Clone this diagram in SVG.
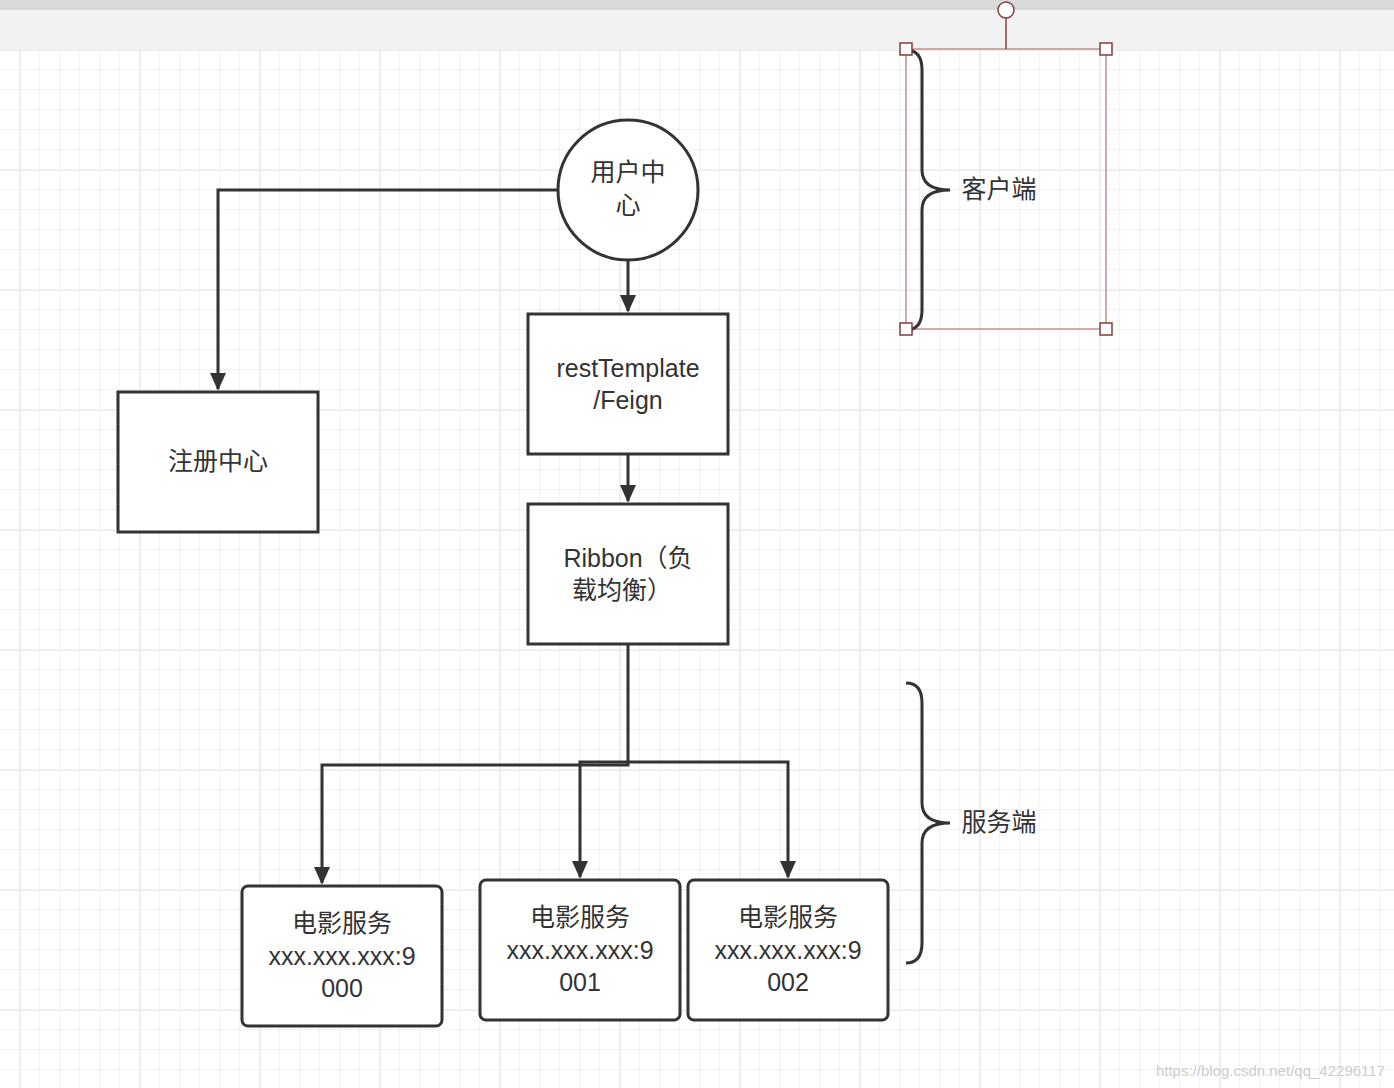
<svg xmlns="http://www.w3.org/2000/svg" width="1394" height="1088" viewBox="0 0 1394 1088">
<defs>
<pattern id="g" width="20" height="20" patternUnits="userSpaceOnUse" x="0" y="10"><path d="M20 0V20M0 20H20" fill="none" stroke="#e6e6e6" stroke-width="1"/></pattern>
<pattern id="G" width="120" height="120" patternUnits="userSpaceOnUse" x="20" y="50"><path d="M0 0V120M0 0H120" fill="none" stroke="#d8d8d8" stroke-width="1"/></pattern>
<marker id="a" markerWidth="18" markerHeight="20" refX="18" refY="9" orient="auto" markerUnits="userSpaceOnUse" viewBox="0 0 20 18"><path d="M0 0L20 9L0 18Z" fill="#333"/></marker>
</defs>
<style>
.n{fill:#fff;stroke:#333;stroke-width:3}
.t{font-family:"Helvetica","Liberation Sans","Noto Sans CJK SC",sans-serif;font-size:25px;fill:#333;text-anchor:middle}
.c{fill:none;stroke:#333;stroke-width:3}
.h{fill:#fff;stroke:#8b3a3a;stroke-width:1.5}
</style>
<rect width="1394" height="1088" fill="#fff"/>
<rect y="50" width="1394" height="1038" fill="url(#g)"/>
<rect y="50" width="1394" height="1038" fill="url(#G)"/>
<rect width="1394" height="50" fill="#f2f2f2"/>
<rect width="1394" height="10" fill="#d9d9d9"/>
<g id="connectors">
<path class="c" d="M557 190H218V389" marker-end="url(#a)"/>
<path class="c" d="M628 260V311" marker-end="url(#a)"/>
<path class="c" d="M628 454V501" marker-end="url(#a)"/>
<path class="c" d="M628 644V765H322V883" marker-end="url(#a)"/>
<path class="c" d="M628 762H580V877" marker-end="url(#a)"/>
<path class="c" d="M628 762H788V877" marker-end="url(#a)"/>
</g>
<g id="user"><circle class="n" cx="628" cy="190" r="70"/><text class="t" x="628" y="181">用户中</text><text class="t" x="628" y="214">心</text></g>
<g id="registry"><rect class="n" x="118" y="392" width="200" height="140"/><text class="t" x="218" y="470">注册中心</text></g>
<g id="rest"><rect class="n" x="528" y="314" width="200" height="140"/><text class="t" x="628" y="377">restTemplate</text><text class="t" x="628" y="409">/Feign</text></g>
<g id="ribbon"><rect class="n" x="528" y="504" width="200" height="140"/><text class="t" x="628" y="567">Ribbon（负</text><text class="t" x="622" y="599">载均衡）</text></g>
<g id="s0"><rect class="n" x="242" y="886" width="200" height="140" rx="6"/><text class="t" x="342" y="932">电影服务</text><text class="t" x="342" y="965">xxx.xxx.xxx:9</text><text class="t" x="342" y="997">000</text></g>
<g id="s1"><rect class="n" x="480" y="880" width="200" height="140" rx="6"/><text class="t" x="580" y="926">电影服务</text><text class="t" x="580" y="959">xxx.xxx.xxx:9</text><text class="t" x="580" y="991">001</text></g>
<g id="s2"><rect class="n" x="688" y="880" width="200" height="140" rx="6"/><text class="t" x="788" y="926">电影服务</text><text class="t" x="788" y="959">xxx.xxx.xxx:9</text><text class="t" x="788" y="991">002</text></g>
<g id="client">
<rect x="906" y="49" width="200" height="280" fill="none" stroke="#c09090" stroke-width="1.5"/>
<path class="c" d="M906 50Q922 50 922 70V170Q922 190 950 190Q922 190 922 210V310Q922 330 906 330"/>
<line x1="1006" y1="18" x2="1006" y2="49" stroke="#8b3a3a" stroke-width="1.5"/>
<circle cx="1006" cy="10" r="8" class="h"/>
<rect class="h" x="900" y="43" width="12" height="12"/><rect class="h" x="1100" y="43" width="12" height="12"/>
<rect class="h" x="900" y="323" width="12" height="12"/><rect class="h" x="1100" y="323" width="12" height="12"/>
<text class="t" x="999" y="198">客户端</text>
</g>
<g id="server">
<path class="c" d="M906 683Q922 683 922 703V803Q922 823 950 823Q922 823 922 843V943Q922 963 906 963"/>
<text class="t" x="999" y="831">服务端</text>
</g>
<text x="1385" y="1076" font-family="Liberation Sans,sans-serif" font-size="15" fill="#ccc" text-anchor="end">https://blog.csdn.net/qq_42296117</text>
</svg>
